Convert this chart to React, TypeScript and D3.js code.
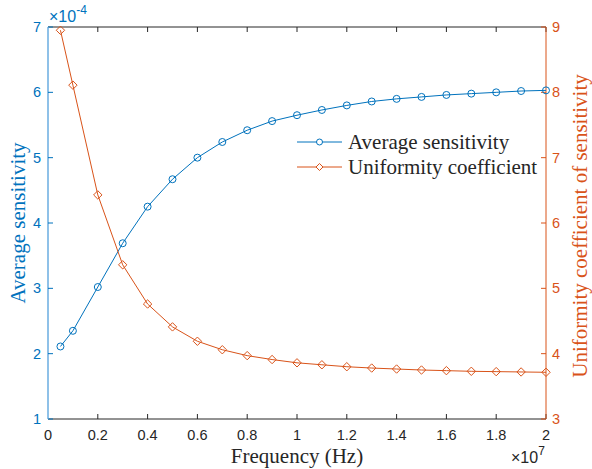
import React from 'react';
import * as d3 from 'd3';

// frequency in units of 1e7 Hz
const freq = [0.05, 0.1, 0.2, 0.3, 0.4, 0.5, 0.6, 0.7, 0.8, 0.9, 1.0, 1.1, 1.2, 1.3, 1.4, 1.5, 1.6, 1.7, 1.8, 1.9, 2.0];
// average sensitivity in units of 1e-4
const avgSens = [2.11, 2.35, 3.02, 3.69, 4.25, 4.67, 5.0, 5.24, 5.42, 5.56, 5.65, 5.73, 5.8, 5.86, 5.9, 5.93, 5.96, 5.98, 6.0, 6.02, 6.03];
const uniformity = [8.95, 8.11, 6.43, 5.36, 4.76, 4.41, 4.19, 4.06, 3.97, 3.91, 3.86, 3.83, 3.8, 3.78, 3.765, 3.75, 3.74, 3.73, 3.725, 3.72, 3.715];

const xTicks = [0, 0.2, 0.4, 0.6, 0.8, 1, 1.2, 1.4, 1.6, 1.8, 2];
const leftTicks = [1, 2, 3, 4, 5, 6, 7];
const rightTicks = [3, 4, 5, 6, 7, 8, 9];
const seriesNames = ['Average sensitivity', 'Uniformity coefficient'];

const BLUE = '#0072BD';
const ORANGE = '#D95319';
const SANS = 'Liberation Sans, Arial, sans-serif';
const SERIF = 'Liberation Serif, Times New Roman, serif';

const W = 592, H = 469;
const L = 48, R = 546, T = 27, B = 419;

export default function App() {
    const x = d3.scaleLinear().domain([0, 2]).range([L, R]);
    const yL = d3.scaleLinear().domain([1, 7]).range([B, T]);
    const yR = d3.scaleLinear().domain([3, 9]).range([B, T]);

    const blueLine = d3.line<number>().x((d, i) => x(freq[i])).y(d => yL(d))(avgSens) || '';
    const orangeLine = d3.line<number>().x((d, i) => x(freq[i])).y(d => yR(d))(uniformity) || '';

    const diamond = (cx: number, cy: number, s: number) =>
        `M${cx},${cy - s}L${cx + s},${cy}L${cx},${cy + s}L${cx - s},${cy}Z`;

    const tick = 5;
    const fs = 14.5;

    return (
        <svg width={W} height={H} style={{ position: 'absolute', left: 0, top: 0, background: '#fff' }}>
            <rect x={0} y={0} width={W} height={H} fill="#fff" />
            {/* top & bottom axes */}
            <line x1={L} x2={R} y1={T} y2={T} stroke="#262626" strokeWidth={1} />
            <line x1={L} x2={R} y1={B} y2={B} stroke="#262626" strokeWidth={1} />
            {xTicks.map(t => (
                <g key={'x' + t}>
                    <line x1={x(t)} x2={x(t)} y1={B} y2={B - tick} stroke="#262626" />
                    <line x1={x(t)} x2={x(t)} y1={T} y2={T + tick} stroke="#262626" />
                    <text x={x(t)} y={440} textAnchor="middle" fontFamily={SANS} fontSize={fs} fill="#262626">{t}</text>
                </g>
            ))}
            <text x={511} y={463} fontFamily={SANS} fontSize={16} fill="#262626">
                ×10<tspan dy={-8} fontSize={12}>7</tspan>
            </text>
            <text x={297} y={463} textAnchor="middle" fontFamily={SERIF} fontSize={21} fill="#262626">Frequency (Hz)</text>

            {/* left axis */}
            <line x1={L} x2={L} y1={T} y2={B} stroke="#8fc1e8" strokeWidth={2} />
            {leftTicks.map(t => (
                <g key={'l' + t}>
                    <line x1={L} x2={L + tick} y1={yL(t)} y2={yL(t)} stroke={BLUE} />
                    <text x={41} y={yL(t) + 5} textAnchor="end" fontFamily={SANS} fontSize={fs} fill={BLUE}>{t}</text>
                </g>
            ))}
            <text x={49} y={22} fontFamily={SANS} fontSize={16} fill={BLUE}>
                ×10<tspan dy={-8} fontSize={12}>-4</tspan>
            </text>
            <text transform={`translate(25,${(T + B) / 2}) rotate(-90)`} textAnchor="middle" fontFamily={SERIF} fontSize={21} fill={BLUE}>Average sensitivity</text>

            {/* right axis */}
            <line x1={R} x2={R} y1={T} y2={B} stroke={ORANGE} strokeWidth={1} />
            {rightTicks.map(t => (
                <g key={'r' + t}>
                    <line x1={R} x2={R - tick} y1={yR(t)} y2={yR(t)} stroke={ORANGE} />
                    <text x={552} y={yR(t) + 5} textAnchor="start" fontFamily={SANS} fontSize={fs} fill={ORANGE}>{t}</text>
                </g>
            ))}
            <text transform={`translate(587,${(T + B) / 2 + 3}) rotate(-90)`} textAnchor="middle" fontFamily={SERIF} fontSize={21} fill={ORANGE}>Uniformity coefficient of sensitivity</text>

            {/* series */}
            <path d={blueLine} fill="none" stroke={BLUE} strokeWidth={1} />
            {avgSens.map((v, i) => (
                <circle key={'c' + i} cx={x(freq[i])} cy={yL(v)} r={3.5} fill="none" stroke={BLUE} strokeWidth={1} />
            ))}
            <path d={orangeLine} fill="none" stroke={ORANGE} strokeWidth={1} />
            {uniformity.map((v, i) => (
                <path key={'d' + i} d={diamond(x(freq[i]), yR(v), 4.2)} fill="none" stroke={ORANGE} strokeWidth={1} />
            ))}

            {/* legend */}
            <g>
                <line x1={297} x2={342} y1={142} y2={142} stroke={BLUE} />
                <circle cx={319.5} cy={142} r={3} fill="#fff" stroke={BLUE} />
                <text x={348} y={149} fontFamily={SERIF} fontSize={21} fill="#262626">{seriesNames[0]}</text>
                <line x1={297} x2={342} y1={167} y2={167} stroke={ORANGE} />
                <path d={diamond(319.5, 167, 3.5)} fill="#fff" stroke={ORANGE} />
                <text x={348} y={174} fontFamily={SERIF} fontSize={21} fill="#262626">{seriesNames[1]}</text>
            </g>
        </svg>
    );
}
